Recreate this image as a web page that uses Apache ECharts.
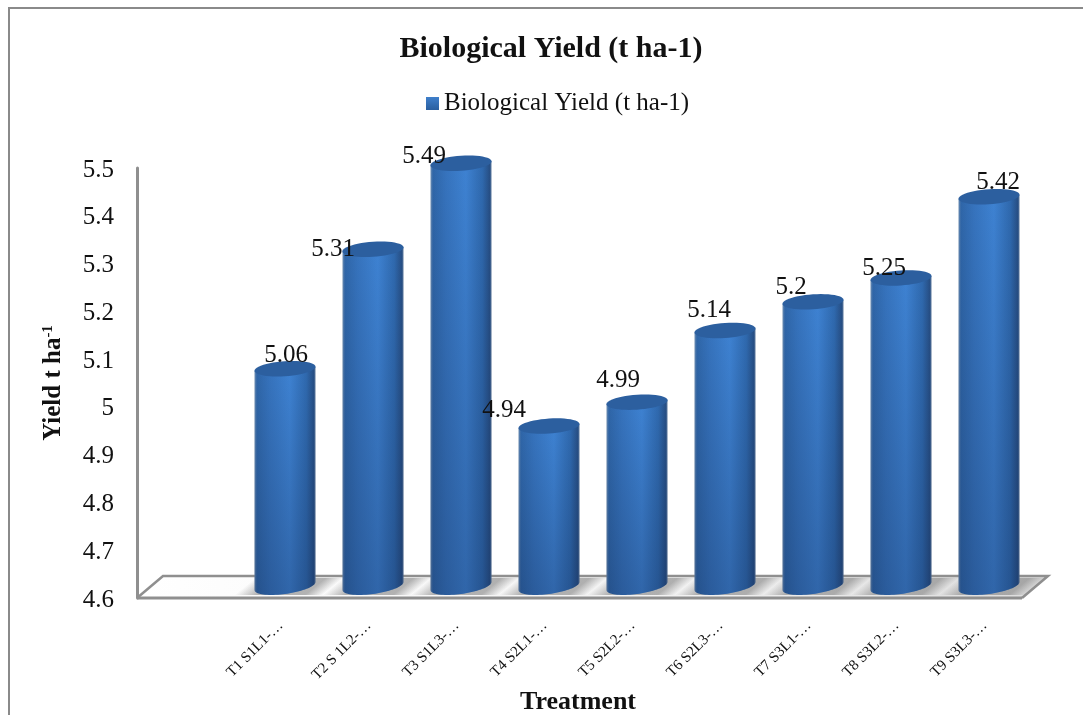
<!DOCTYPE html>
<html>
<head>
<meta charset="utf-8">
<style>html,body{margin:0;padding:0;background:#fff}#c{width:1083px;height:715px}</style>
<script src="https://cdn.jsdelivr.net/npm/echarts@6/dist/echarts.min.js"></script>
</head>
<body>
<div id="c"></div>
<script>
var categories = ['T1 S1L1-…','T2 S 1L2-…','T3 S1L3-…','T4 S2L1-…','T5 S2L2-…','T6 S2L3-…','T7 S3L1-…','T8 S3L2-…','T9 S3L3-…'];
var yieldValues = [5.06,5.31,5.49,4.94,4.99,5.14,5.2,5.25,5.42];
var seriesName = 'Biological Yield (t ha-1)';
var labelDx = [1,-40,-37,-45,-19,-16,-22,-17,9];
var labelDy = [-23,-9,-16,-25,-31,-30,-24,-19,-24];

var SERIF = '"Liberation Serif","Times New Roman",serif';
var GRAY = '#8f8f8f';
var HALF = 30.5;

function ellipsePts(cx, cy, ry, shear, from, to, n) {
  var pts = [];
  for (var i = 0; i <= n; i++) {
    var t = from + (to - from) * i / n;
    var c = Math.cos(t), s = Math.sin(t);
    pts.push([cx + HALF * c, cy + ry * s - shear * c]);
  }
  return pts;
}

function renderFloor(params, api) {
  var g = params.coordSys;
  var x0 = g.x - 104, x1 = g.x + g.width - 11, yF = g.y + g.height, yB = yF - 22, d = 26;
  var lineStyle = { stroke: GRAY, lineWidth: 2.5, fill: null };
  return { type: 'group', children: [
    { type: 'polygon', shape: { points: [[x0, yF], [x0 + d, yB], [x1 + d, yB], [x1, yF]] },
      style: { fill: new echarts.graphic.LinearGradient(0, 0, 1, 0, [
        { offset: 0, color: '#ffffff' }, { offset: 0.6, color: '#f2f2f2' }, { offset: 1, color: '#dcdcdc' }]) } },
    { type: 'polyline', shape: { points: [[x0, yF], [x0 + d, yB], [x1 + d, yB], [x1, yF]] }, style: lineStyle },
    { type: 'line', shape: { x1: x0, y1: yF, x2: x1, y2: yF }, style: { stroke: GRAY, lineWidth: 3 } }
  ] };
}

function renderShadow(params, api) {
  var cx = api.coord([api.value(0), 4.6])[0];
  var yF = params.coordSys.y + params.coordSys.height;
  var yFront = yF - 3, yBack = yF - 20, skew = 20;
  var L = cx - HALF - 20, R = cx + HALF + 8;
  var nx = 0.63, ny = 0.77, len = (R - L) * nx;
  var sx = L, sy = yFront;
  var grad = new echarts.graphic.LinearGradient(sx, sy, sx + nx * len, sy + ny * len, [
    { offset: 0, color: 'rgba(130,130,130,0)' },
    { offset: 0.25, color: 'rgba(130,130,130,0.6)' },
    { offset: 0.8, color: 'rgba(130,130,130,0.6)' },
    { offset: 1, color: 'rgba(130,130,130,0)' }
  ], true);
  return { type: 'polygon',
    shape: { points: [[L, yFront], [L + skew, yBack], [R + skew, yBack], [R, yFront]] },
    style: { fill: grad } };
}

function renderBar(params, api) {
  var v = api.value(1);
  var top = api.coord([api.value(0), v]);
  var base = api.coord([api.value(0), 4.6]);
  var cx = top[0], yT = top[1] - 9.5, yB = base[1] - 12;
  var topEll = ellipsePts(cx, yT, 7.5, 2, 0, Math.PI * 2, 48);
  var front = ellipsePts(cx, yB, 8, 4, Math.PI, 0, 40);
  var body = [[cx - HALF, yT + 2]].concat(front).concat([[cx + HALF, yT - 2]]);
  var hGrad = new echarts.graphic.LinearGradient(0, 0, 1, 0, [
    { offset: 0, color: '#6f8fb4' }, { offset: 0.04, color: '#2f66a8' },
    { offset: 0.25, color: '#3673bd' }, { offset: 0.58, color: '#3e82d2' },
    { offset: 0.85, color: '#2f69ae' }, { offset: 0.97, color: '#274f85' }, { offset: 1, color: '#5d7a9e' }]);
  var vGrad = new echarts.graphic.LinearGradient(0, 0, 0, 1, [
    { offset: 0, color: 'rgba(16,36,76,0)' }, { offset: 1, color: 'rgba(16,36,76,0.3)' }]);
  return { type: 'group', children: [
    { type: 'polygon', shape: { points: body }, style: { fill: hGrad } },
    { type: 'polygon', shape: { points: body }, style: { fill: vGrad } },
    { type: 'polygon', shape: { points: topEll }, style: { fill: '#2c5f9f' } },
    { type: 'text', z2: 50, style: {
        text: String(v), x: cx + labelDx[params.dataIndex], y: top[1] + labelDy[params.dataIndex],
        align: 'center', verticalAlign: 'middle', fill: '#111',
        fontFamily: SERIF, fontSize: 25 } }
  ] };
}

var indexed = yieldValues.map(function (v, i) { return [i, v]; });

var chart = echarts.init(document.getElementById('c'), null, { renderer: 'canvas' });
chart.setOption({
  animation: false,
  backgroundColor: '#fff',
  title: { text: seriesName, left: 551, top: 34, textAlign: 'center',
    textStyle: { fontFamily: SERIF, fontSize: 30, fontWeight: 'bold', color: '#111' }, padding: 0 },
  legend: { data: [{ name: seriesName, icon: 'rect',
      itemStyle: { color: new echarts.graphic.LinearGradient(0, 0, 0, 1, [{ offset: 0, color: '#3f7fcb' }, { offset: 1, color: '#2a5f9f' }]) } }],
    left: 426, top: 91, padding: 0, itemWidth: 13, itemHeight: 13,
    textStyle: { fontFamily: SERIF, fontSize: 25, color: '#111' } },
  grid: { left: 241, top: 168, width: 792, height: 430, outerBoundsMode: 'none' },
  xAxis: { type: 'category', data: categories,
    axisLine: { show: false }, axisTick: { show: false },
    axisLabel: { interval: 0, rotate: 45, margin: 21, formatter: '{a|{value}}',
      rich: { a: { fontFamily: SERIF, fontSize: 15, color: '#111', padding: [0, 6, 0, 0] } } },
    name: 'Treatment', nameLocation: 'middle', nameGap: 90,
    nameTextStyle: { fontFamily: SERIF, fontSize: 26, fontWeight: 'bold', color: '#111', padding: [0, 0, 0, -118] } },
  yAxis: { type: 'value', min: 4.6, max: 5.5, interval: 0.1, offset: 104, splitLine: { show: false },
    axisLine: { show: true, lineStyle: { color: GRAY, width: 3, cap: 'round' } }, axisTick: { show: false },
    axisLabel: { margin: 23, formatter: '{a|{value}}',
      rich: { a: { fontFamily: SERIF, fontSize: 25, color: '#111', padding: [4, 0, 0, 0] } } },
    name: 'Yield t ha{sup|-1}', nameLocation: 'middle', nameGap: 70, nameRotate: 90,
    nameTextStyle: { fontFamily: SERIF, fontSize: 25, fontWeight: 'bold', color: '#111',
      rich: { sup: { fontFamily: SERIF, fontSize: 15, fontWeight: 'bold', color: '#111', verticalAlign: 'top', lineHeight: 26 } } } },
  series: [
    { name: 'floor', type: 'custom', silent: true, data: [[0, 4.6]], renderItem: renderFloor, encode: { x: 0, y: 1 }, z: 1 },
    { name: 'shadow', type: 'custom', silent: true, data: indexed, renderItem: renderShadow, encode: { x: 0, y: 1 }, z: 2 },
    { name: seriesName, type: 'custom', data: indexed, renderItem: renderBar, encode: { x: 0, y: 1 }, z: 3 }
  ],
  graphic: [
    { type: 'polyline', silent: true, shape: { points: [[9, 715], [9, 8], [1083, 8]] }, style: { stroke: '#8a8a8a', lineWidth: 2, fill: null } }
  ]
});
</script>
</body>
</html>
